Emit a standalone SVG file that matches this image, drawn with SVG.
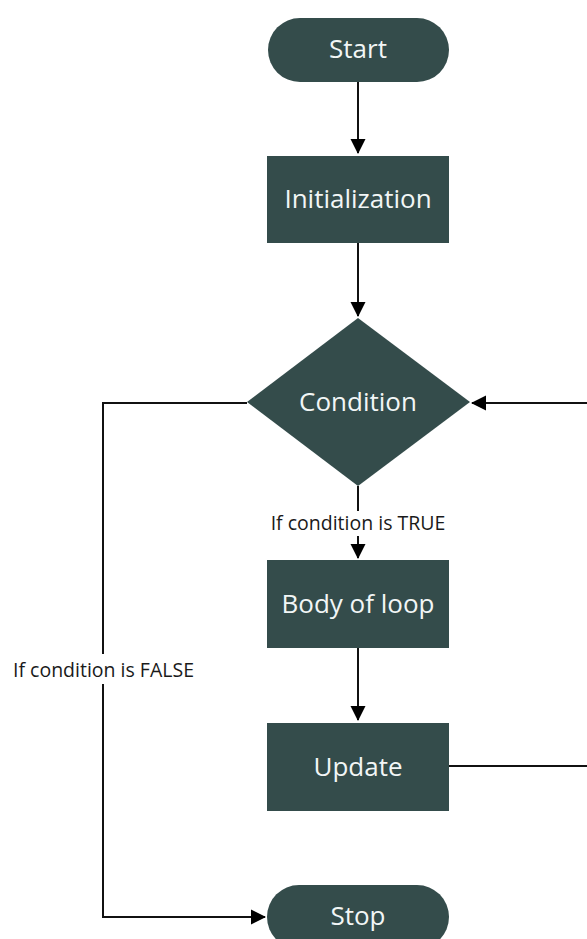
<svg xmlns="http://www.w3.org/2000/svg" width="587" height="939" viewBox="0 0 587 939">
<style>
.n{fill:#344c4b;}
.t{font-family:"Open Sans","Noto Sans",sans-serif;font-size:26px;fill:#f2f6f6;text-anchor:middle;}
.l{font-family:"Open Sans","Noto Sans",sans-serif;font-size:19.5px;fill:#1a1a1a;}
.c{fill:none;stroke:#111;stroke-width:2;}
</style>
<defs>
<marker id="a" markerWidth="16" markerHeight="16" refX="14" refY="8" orient="auto" markerUnits="userSpaceOnUse">
<path d="M0,0.5 L15,8 L0,15.5 z" fill="#000"/>
</marker>
</defs>
<rect width="587" height="939" fill="#fff"/>
<g id="connectors">
<path class="c" d="M358,82 V153" marker-end="url(#a)"/>
<path class="c" d="M358,243 V316" marker-end="url(#a)"/>
<path class="c" d="M358,486 V511"/>
<path class="c" d="M358,536 V558" marker-end="url(#a)"/>
<path class="c" d="M358,648 V720" marker-end="url(#a)"/>
<path class="c" d="M449,766 H587"/>
<path class="c" d="M587,403 H472" marker-end="url(#a)"/>
<path class="c" d="M247,403 H103 V654"/>
<path class="c" d="M103,684 V917 H265" marker-end="url(#a)"/>
<text class="l" x="358" y="530" text-anchor="middle">If condition is TRUE</text>
<text class="l" x="13" y="677">If condition is FALSE</text>
</g>
<g id="start">
<rect class="n" x="268" y="18" width="181" height="64" rx="32"/>
<text class="t" x="358" y="58">Start</text>
</g>
<g id="init">
<rect class="n" x="267" y="156" width="182" height="87"/>
<text class="t" x="358" y="208">Initialization</text>
</g>
<g id="condition">
<polygon class="n" points="358,318 470,402 358,486 247,402"/>
<text class="t" x="358" y="411">Condition</text>
</g>
<g id="body">
<rect class="n" x="267" y="560" width="182" height="88"/>
<text class="t" x="358" y="613">Body of loop</text>
</g>
<g id="update">
<rect class="n" x="267" y="723" width="182" height="88"/>
<text class="t" x="358" y="776">Update</text>
</g>
<g id="stop">
<rect class="n" x="267" y="885" width="182" height="64" rx="32"/>
<text class="t" x="358" y="925">Stop</text>
</g>
</svg>
